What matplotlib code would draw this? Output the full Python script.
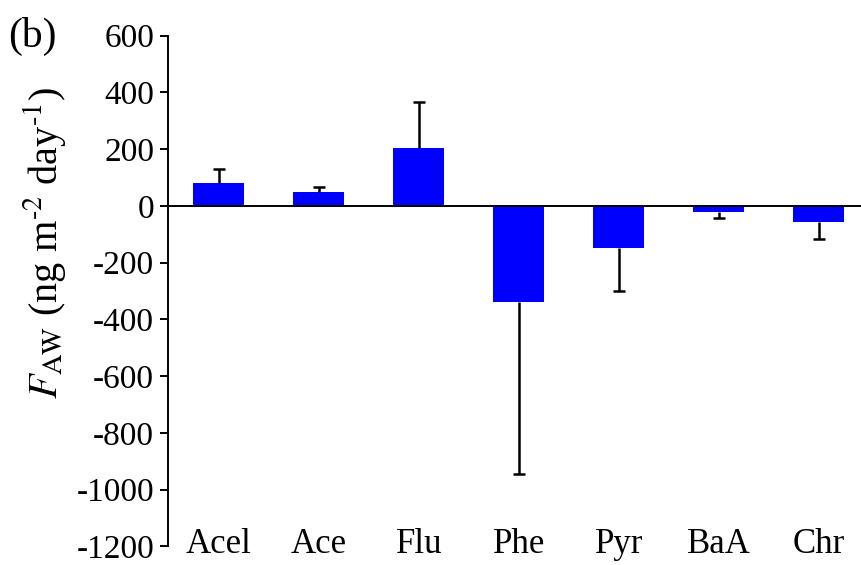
import numpy as np
import matplotlib
matplotlib.use('Agg')
import matplotlib.pyplot as plt

plt.rcParams['font.family'] = ['Liberation Serif', 'DejaVu Serif']
plt.rcParams['mathtext.fontset'] = 'stix'
plt.rcParams['axes.unicode_minus'] = False

# air-water exchange flux per compound
compounds = ['Acel', 'Ace', 'Flu', 'Phe', 'Pyr', 'BaA', 'Chr']
flux = [80, 50, 205, -340, -148, -20, -57]
flux_sd = [50, 17, 160, 605, 152, 22, 61]


def main():
    x = np.arange(len(compounds))
    flux_arr = np.array(flux)
    sd = np.array(flux_sd)
    # error bar only drawn away from zero
    tip = flux_arr + np.sign(flux_arr) * sd

    fig = plt.figure(figsize=(8.61, 5.65), dpi=100)
    ax = fig.add_axes([0.195, 0.033, 0.805, 0.904])

    ax.bar(x, flux_arr, width=0.51, color='#0000ff', zorder=2)
    ax.vlines(x, flux_arr, tip, color='black', lw=1.8, zorder=3)
    ax.plot(x, tip, ls='none', marker='_', ms=9, mew=1.8, color='black',
            zorder=3)
    ax.axhline(0, color='black', lw=1.4, zorder=4)

    ax.set_xlim(-0.51, 6.42)
    ax.set_ylim(-1200, 600)
    ax.set_yticks(np.arange(-1200, 601, 200))

    for side in ['top', 'right', 'bottom']:
        ax.spines[side].set_visible(False)
    ax.spines['left'].set_linewidth(1.4)

    ax.tick_params(axis='y', direction='out', length=6, width=1.4,
                   labelsize=24, pad=4)
    ax.set_xticks(x)
    ax.set_xticklabels(compounds)
    ax.tick_params(axis='x', length=0, labelsize=25, pad=-13)

    fig.text(0.052, 0.57,
             r'$F_{\rm AW}$ (ng m$^{\text{-}2}$ day$^{\text{-}1}$)',
             fontsize=29, rotation=90, ha='center', va='center')
    fig.text(0.010, 0.935, '(b)', fontsize=30, va='center', ha='left')

    fig.savefig('out.png', dpi=100)


if __name__ == "__main__":
    main()
